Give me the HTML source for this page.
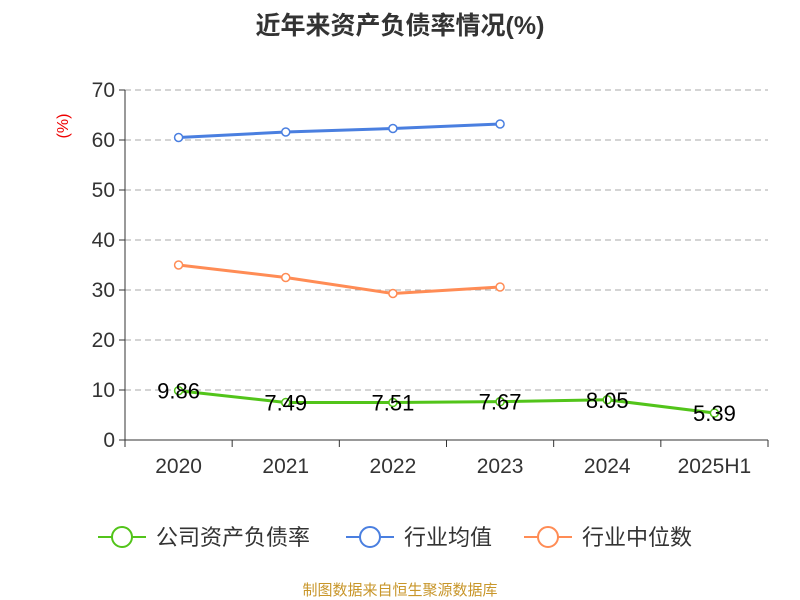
<!DOCTYPE html>
<html><head><meta charset="utf-8"><style>
body{margin:0;background:#fff;}
svg{display:block;font-family:"Liberation Sans","Noto Sans CJK SC",sans-serif;}
</style></head><body>
<svg id="c" width="800" height="600">
<text x="400" y="34" text-anchor="middle" font-size="25" font-weight="bold" fill="#333">近年来资产负债率情况(%)</text>
<text x="68" y="126" text-anchor="middle" font-size="16" fill="#e00" transform="rotate(-90 68 126)">(%)</text>
<g id="grid"></g><g id="axes"></g><g id="series"></g>
<g>
<g><line x1="98" y1="537" x2="146" y2="537" stroke="#52c41a" stroke-width="2"/><circle cx="122" cy="537" r="10" fill="#fff" stroke="#52c41a" stroke-width="2"/><text x="156" y="545" font-size="22" fill="#333">公司资产负债率</text></g>
<g><line x1="346" y1="537" x2="394" y2="537" stroke="#4a7fe0" stroke-width="2"/><circle cx="370" cy="537" r="10" fill="#fff" stroke="#4a7fe0" stroke-width="2"/><text x="404" y="545" font-size="22" fill="#333">行业均值</text></g>
<g><line x1="524" y1="537" x2="572" y2="537" stroke="#ff8c55" stroke-width="2"/><circle cx="548" cy="537" r="10" fill="#fff" stroke="#ff8c55" stroke-width="2"/><text x="582" y="545" font-size="22" fill="#333">行业中位数</text></g>
</g>
<text x="400" y="595" text-anchor="middle" font-size="15" fill="#c8962a">制图数据来自恒生聚源数据库</text>
</svg>
<script>
const categories=["2020","2021","2022","2023","2024","2025H1"];
const companyValues=[9.86,7.49,7.51,7.67,8.05,5.39];
const industryAvg=[60.5,61.6,62.3,63.2];
const industryMedian=[35.0,32.5,29.3,30.6];
const yTicks=[0,10,20,30,40,50,60,70];
const NS="http://www.w3.org/2000/svg";
const x0=125,x1=768,yTop=90,yBot=440,yMax=70;
const bw=(x1-x0)/categories.length;
const X=i=>x0+bw*(i+0.5);
const Y=v=>yBot-(v/yMax)*(yBot-yTop);
function mk(tag,attrs,parent,txt){const e=document.createElementNS(NS,tag);for(const k in attrs)e.setAttribute(k,attrs[k]);if(txt!==undefined)e.textContent=txt;parent.appendChild(e);return e;}
const grid=document.getElementById('grid'),axes=document.getElementById('axes'),ser=document.getElementById('series');
yTicks.forEach(t=>{
 if(t>0){const g=mk('line',{x1:x0,x2:x1,y1:Y(t),y2:Y(t),stroke:'#aaa','stroke-dasharray':'6,4'},grid);
 
 }
 const tk=mk('line',{x1:x0-6,x2:x0,y1:Y(t),y2:Y(t),stroke:'#333'},axes);
 
 
 const lb=mk('text',{x:x0-10,y:Y(t)+7,'text-anchor':'end','font-size':21,fill:'#333'},axes,String(t));
 
 
});
const ya=mk('line',{x1:x0,x2:x0,y1:yTop,y2:yBot,stroke:'#333'},axes);


const xa=mk('line',{x1:x0,x2:x1,y1:yBot,y2:yBot,stroke:'#333'},axes);


for(let i=0;i<=categories.length;i++){const t=mk('line',{x1:x0+bw*i,x2:x0+bw*i,y1:yBot,y2:yBot+7,stroke:'#333'},axes);
 
 }
categories.forEach((c,i)=>{const t=mk('text',{x:X(i),y:473,'text-anchor':'middle','font-size':21,fill:'#333'},axes,c);
 
 });
function series(vals,color,name,labels){
 const g=mk('g',{},ser);
 
 
 const p=mk('polyline',{points:vals.map((v,i)=>X(i)+','+Y(v)).join(' '),fill:'none',stroke:color,'stroke-width':3},g);
 
 
 vals.forEach((v,i)=>{const c=mk('circle',{cx:X(i),cy:Y(v),r:4,fill:'#fff',stroke:color,'stroke-width':1.5},g);
  
  
  if(labels){const t=mk('text',{x:X(i),y:Y(v)+8,'text-anchor':'middle','font-size':22,fill:'#000'},g,v.toFixed(2));
   
   }
 });
}
series(industryAvg,'#4a7fe0','industry-average',false);
series(industryMedian,'#ff8c55','industry-median',false);
series(companyValues,'#52c41a','company-debt-ratio',true);
</script>
</body></html>
